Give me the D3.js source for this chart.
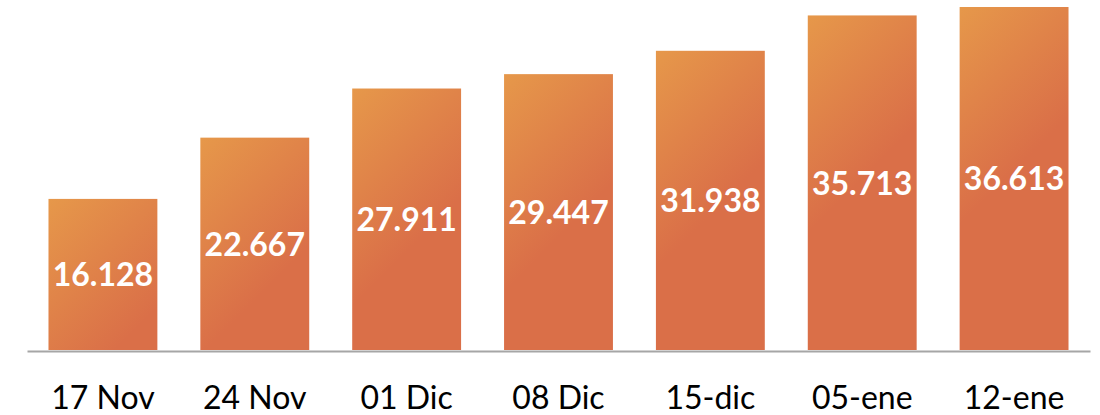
<!DOCTYPE html>
<html>
<head>
<meta charset="utf-8">
<script src="https://cdn.jsdelivr.net/npm/d3@7"></script>
<style>
  body { margin: 0; background: #fff; }
  svg { display: block; }
</style>
</head>
<body>
<script>
const categories = ['17 Nov', '24 Nov', '01 Dic', '08 Dic', '15-dic', '05-ene', '12-ene'];
const values = [16.128, 22.667, 27.911, 29.447, 31.938, 35.713, 36.613];
const valueLabels = ['16.128', '22.667', '27.911', '29.447', '31.938', '35.713', '36.613'];

const WIDTH = 1100;
const HEIGHT = 415;
const BASE_Y = 350;

var svg = d3.select('body').append('svg')
    .attr('width', WIDTH)
    .attr('height', HEIGHT);

var xScale = d3.scaleBand()
    .domain(categories)
    .range([27, 1090])
    .paddingInner(0.283)
    .paddingOuter(0.1415);

var yScale = d3.scaleLinear()
    .domain([0, 37.36])
    .range([BASE_Y, 0]);

var data = categories.map(function(c, i) {
    return {cat: c, value: values[i], label: valueLabels[i], i: i};
});

var defs = svg.append('defs');
defs.selectAll('linearGradient').data(data)
    .enter()
    .append('linearGradient')
    .attr('id', function(d) { return 'grad' + d.i; })
    .attr('gradientUnits', 'userSpaceOnUse')
    .attr('x1', function(d) { return xScale(d.cat); })
    .attr('y1', function(d) { return yScale(d.value); })
    .attr('x2', function(d) { return xScale(d.cat) + xScale.bandwidth(); })
    .attr('y2', function(d) { return yScale(d.value) + xScale.bandwidth(); })
    .each(function() {
        var g = d3.select(this);
        g.append('stop').attr('offset', '0%').attr('stop-color', '#E6984A');
        g.append('stop').attr('offset', '100%').attr('stop-color', '#DA6F48');
    });

svg.selectAll('.bar').data(data)
    .enter()
    .append('rect')
    .attr('class', 'bar')
    .attr('x', function(d) { return xScale(d.cat); })
    .attr('y', function(d) { return yScale(d.value); })
    .attr('width', xScale.bandwidth())
    .attr('height', function(d) { return BASE_Y - yScale(d.value); })
    .attr('fill', function(d) { return 'url(#grad' + d.i + ')'; });

// value labels, centred in each bar
svg.selectAll('.val').data(data)
    .enter()
    .append('text')
    .attr('class', 'val')
    .attr('x', function(d) { return xScale(d.cat) + xScale.bandwidth() / 2; })
    .attr('y', function(d) { return (yScale(d.value) + BASE_Y) / 2 + 12; })
    .attr('text-anchor', 'middle')
    .attr('font-family', 'Lato, sans-serif')
    .attr('font-weight', 'bold')
    .attr('font-size', 32)
    .attr('fill', '#fff')
    .text(function(d) { return d.label; });

var xAxis = d3.axisBottom(xScale).tickSize(0).tickPadding(0);

var axisG = svg.append('g')
    .attr('transform', 'translate(0,' + (BASE_Y + 1) + ')')
    .call(xAxis);

axisG.select('.domain')
    .attr('stroke', '#A6A6A6')
    .attr('stroke-width', 2);

axisG.selectAll('text')
    .attr('y', 58)
    .attr('dy', null)
    .attr('font-family', 'Lato, sans-serif')
    .attr('font-size', 32)
    .attr('fill', '#000');
</script>
</body>
</html>
